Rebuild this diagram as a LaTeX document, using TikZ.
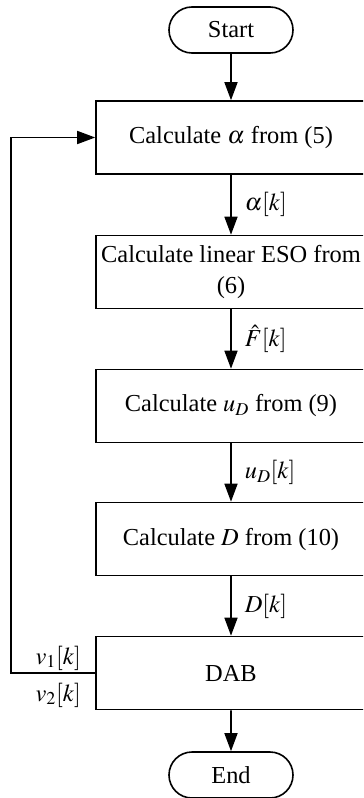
\documentclass[tikz,border=0pt]{standalone}
\usepackage{mathptmx}
\usepackage{fontspec}
\setmainfont{Liberation Serif}
\usetikzlibrary{arrows.meta, shapes.misc}

\begin{document}
\begin{tikzpicture}[x=1bp, y=-1bp,
    every node/.style={font=\fontsize{24.5}{31}\selectfont},
    term/.style={draw, line width=1.6bp, rounded rectangle,
                minimum width=124bp, minimum height=46bp, inner sep=0pt},
    proc/.style={draw, line width=1.6bp, minimum width=270bp,
                minimum height=73bp, align=center, inner sep=0pt},
    elabel/.style={midway, right=12bp, inner sep=1bp},
    flow/.style={-{Triangle[length=18bp, width=13bp]}, line width=1.6bp}
]
\clip (0,0) rectangle (363,798);
% Terminals
\node[term] (start) at (231, 30) {Start};
\node[term] (end)   at (231, 775) {End};
% Steps
\node[proc] (alpha) at (231, 137.5) {Calculate $\alpha$ from (5)};
\node[proc] (eso)   at (231, 272)   {Calculate linear ESO from\\(6)};
\node[proc] (ud)    at (231, 406)   {Calculate $u_D$ from (9)};
\node[proc] (duty)  at (231, 539)   {Calculate $D$ from (10)};
\node[proc] (dab)   at (231, 673)   {DAB};
% Feedback
\coordinate (fb) at (11, 673);
\node[anchor=east, inner sep=1bp] (v1) at (82, 658) {$v_1[k]$};
\node[anchor=east, inner sep=1bp] (v2) at (82, 695) {$v_2[k]$};
% Edges with labels
\draw[flow] (start) -- (alpha);
\draw[flow] (alpha) -- (eso) node[elabel]{$\alpha[k]$};
\draw[flow] (eso) -- (ud) node[elabel]{$\hat{F}[k]$};
\draw[flow] (ud) -- (duty) node[elabel]{$u_D[k]$};
\draw[flow] (duty) -- (dab) node[elabel]{$D[k]$};
\draw[flow] (dab) -- (end);
\draw[flow] (dab.west) -- (fb) |- (alpha.west);
\end{tikzpicture}
\end{document}
